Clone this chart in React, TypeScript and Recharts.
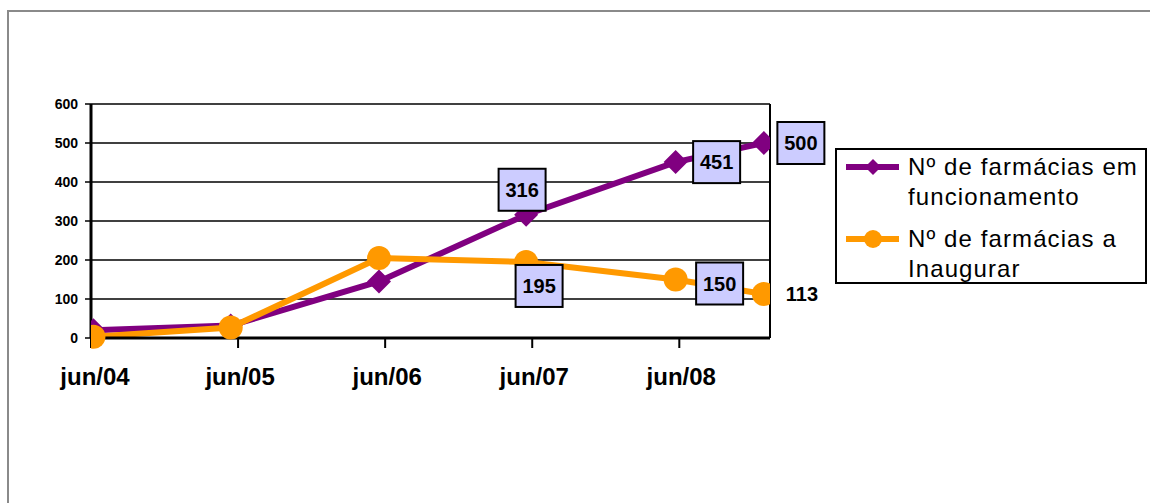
import { LineChart, Line, XAxis, YAxis, CartesianGrid, ReferenceLine, LabelList } from "recharts";

// months counted from jun/04
const tickMonths = [0, 12, 24, 36, 48];
const tickLabels = ["jun/04", "jun/05", "jun/06", "jun/07", "jun/08"];
const pointMonths = [0.2, 11.4, 23.5, 35.5, 47.7, 54.9];
const emFuncionamento = [20, 32, 145, 316, 451, 500];
const aInaugurar = [3, 27, 205, 195, 150, 113];
const yTicks = [0, 100, 200, 300, 400, 500, 600];

const X_MAX = 55.4;
const PURPLE = "#800080";
const ORANGE = "#FF9900";
const FONT = "Arial, 'Liberation Sans', sans-serif";

const data = pointMonths.map((m, i) => ({
  m,
  func: emFuncionamento[i],
  inaug: aInaugurar[i],
}));

// label placement per point index: [dx, dy, boxed]
const funcLabels: Record<number, [number, number, boolean]> = {
  3: [-4, -25, true],
  4: [41, 0, true],
  5: [37, 0, true],
};
const inaugLabels: Record<number, [number, number, boolean]> = {
  3: [13, 24, true],
  4: [44, 4, true],
  5: [38, 0, false],
};

function makeLabel(cfg: Record<number, [number, number, boolean]>) {
  return (props: any) => {
    const { x, y, value, index } = props;
    const c = cfg[index];
    if (!c) return null;
    const cx = x + c[0];
    const cy = y + c[1];
    return (
      <g key={`lbl-${index}`}>
        {c[2] && (
          <rect x={cx - 23.5} y={cy - 21} width={47} height={42} fill="#CCCCFF" stroke="#000" strokeWidth={2} />
        )}
        <text
          x={cx}
          y={cy}
          textAnchor="middle"
          dominantBaseline="central"
          fontFamily={FONT}
          fontWeight="bold"
          fontSize={20}
          fill="#000"
        >
          {value}
        </text>
      </g>
    );
  };
}

const Diamond = (props: any) => {
  const { cx, cy, index } = props;
  const s = 12;
  return (
    <path
      key={`d-${index}`}
      d={`M${cx},${cy - s} L${cx + s},${cy} L${cx},${cy + s} L${cx - s},${cy} Z`}
      fill={PURPLE}
    />
  );
};

const Dot = (props: any) => {
  const { cx, cy, index } = props;
  return <circle key={`c-${index}`} cx={cx} cy={cy} r={12} fill={ORANGE} />;
};

const XTick = (props: any) => {
  const { x, y, payload } = props;
  const label = tickLabels[tickMonths.indexOf(payload.value)];
  // first label sits a little to the right of the axis corner
  const shift = payload.value === 0 ? 4 : 2;
  return (
    <text
      x={x + shift}
      y={y}
      dy="0.71em"
      textAnchor="middle"
      fontFamily={FONT}
      fontWeight="bold"
      fontSize={24}
      fill="#000"
    >
      {label}
    </text>
  );
};

function LegendBox() {
  const row = { display: "flex", alignItems: "flex-start" } as const;
  const text = { fontFamily: FONT, fontSize: 24, letterSpacing: 1.1, lineHeight: "30px", color: "#000" };
  return (
    <div
      style={{
        position: "absolute",
        left: 835,
        top: 148,
        width: 312,
        height: 136,
        border: "2px solid #000",
        background: "#fff",
        boxSizing: "border-box",
        padding: "2px 0 0 9px",
      }}
    >
      <div style={row}>
        <svg width={62} height={30} style={{ flex: "none" }}>
          <line x1={0} y1={15} x2={53} y2={15} stroke={PURPLE} strokeWidth={6} />
          <path d="M27,7 L35,15 L27,23 L19,15 Z" fill={PURPLE} />
        </svg>
        <div style={text}>
          Nº de farmácias em
          <br />
          funcionamento
        </div>
      </div>
      <div style={{ ...row, marginTop: 12 }}>
        <svg width={62} height={30} style={{ flex: "none" }}>
          <line x1={0} y1={15} x2={53} y2={15} stroke={ORANGE} strokeWidth={6} />
          <circle cx={27} cy={15} r={9} fill={ORANGE} />
        </svg>
        <div style={text}>
          Nº de farmácias a
          <br />
          Inaugurar
        </div>
      </div>
    </div>
  );
}

export default function App() {
  return (
    <div style={{ position: "absolute", left: 0, top: 0, width: 1150, height: 503, background: "#fff", overflow: "hidden" }}>
      <div
        style={{
          position: "absolute",
          left: 7,
          top: 10,
          width: 1160,
          height: 510,
          borderLeft: "2px solid #8a8a8a",
          borderTop: "2px solid #8a8a8a",
        }}
      />
      <LineChart
        width={1150}
        height={503}
        data={data}
        margin={{ top: 104, right: 380, bottom: 105, left: 31 }}
        style={{ position: "absolute", left: 0, top: 0 }}
      >
        <CartesianGrid vertical={false} stroke="#000" strokeWidth={1.5} />
        <XAxis
          type="number"
          dataKey="m"
          domain={[0, X_MAX]}
          ticks={tickMonths}
          interval={0}
          allowDataOverflow
          axisLine={{ stroke: "#000", strokeWidth: 3 }}
          tickLine={{ stroke: "#000", strokeWidth: 2 }}
          tickSize={10}
          tickMargin={20}
          height={60}
          tick={<XTick />}
        />
        <YAxis
          domain={[0, 600]}
          ticks={yTicks}
          interval={0}
          axisLine={{ stroke: "#000", strokeWidth: 3 }}
          tickLine={{ stroke: "#000", strokeWidth: 1.5 }}
          tickSize={6}
          tickMargin={7}
          width={60}
          tick={{ fontFamily: FONT, fontWeight: "bold", fontSize: 14, fill: "#000" }}
        />
        <ReferenceLine x={X_MAX} stroke="#000" strokeWidth={2} />
        <Line
          type="linear"
          dataKey="func"
          stroke={PURPLE}
          strokeWidth={6}
          dot={Diamond}
          activeDot={false}
          isAnimationActive={false}
        >
          <LabelList dataKey="func" content={makeLabel(funcLabels)} />
        </Line>
        <Line
          type="linear"
          dataKey="inaug"
          stroke={ORANGE}
          strokeWidth={6}
          dot={Dot}
          activeDot={false}
          isAnimationActive={false}
        >
          <LabelList dataKey="inaug" content={makeLabel(inaugLabels)} />
        </Line>
      </LineChart>
      <LegendBox />
    </div>
  );
}
